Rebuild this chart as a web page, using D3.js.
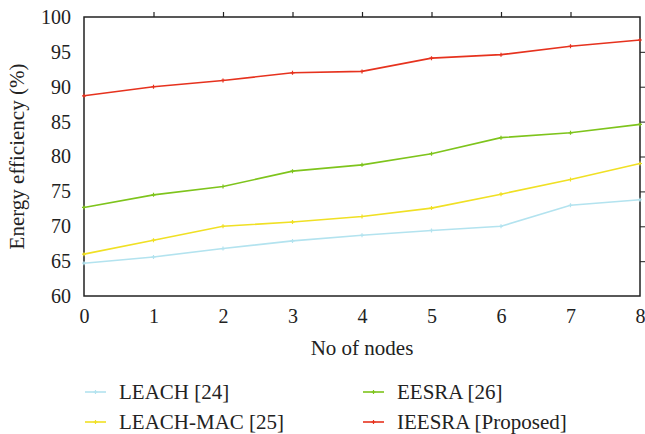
<!DOCTYPE html>
<html>
<head>
<meta charset="utf-8">
<script src="https://cdn.jsdelivr.net/npm/d3@7"></script>
<style>
  body { margin: 0; background: #fff; }
</style>
</head>
<body>
<script>
// data
var nodes = [0, 1, 2, 3, 4, 5, 6, 7, 8]
var leach = [64.7, 65.6, 66.8, 67.9, 68.7, 69.4, 70.0, 73.0, 73.8]
var leachMac = [66.0, 68.0, 70.0, 70.6, 71.4, 72.6, 74.6, 76.7, 79.0]
var eesra = [72.7, 74.5, 75.7, 77.9, 78.8, 80.4, 82.7, 83.4, 84.6]
var ieesra = [88.7, 90.0, 90.9, 92.0, 92.2, 94.1, 94.6, 95.8, 96.7]
var yTicks = [60, 65, 70, 75, 80, 85, 90, 95, 100]

var series = [
  {name: "LEACH [24]", values: leach, color: "#b3e3ef"},
  {name: "LEACH-MAC [25]", values: leachMac, color: "#f0e024"},
  {name: "EESRA [26]", values: eesra, color: "#7ec41c"},
  {name: "IEESRA [Proposed]", values: ieesra, color: "#e6321e"}
]

var FONT = "Liberation Serif"

var margin = {top: 17, right: 5, bottom: 138, left: 84},
    width = 645 - margin.left - margin.right,
    height = 434 - margin.top - margin.bottom

var svg = d3.select("body").append("svg")
    .attr("width", 645)
    .attr("height", 434)
    .attr("font-family", FONT)

var g = svg.append("g")
    .attr("transform", "translate(" + margin.left + "," + margin.top + ")")

var x = d3.scaleLinear().domain([0, 8]).range([0, width])
var y = d3.scaleLinear().domain([60, 100]).range([height, 0])

function styleText(sel, size) {
  sel.attr("font-family", FONT)
     .attr("font-size", size || 21)
     .attr("fill", "#222")
}

// bottom axis: labels only
var xAxis = g.append("g")
    .attr("transform", "translate(0," + height + ")")
    .call(d3.axisBottom(x).tickValues(nodes).tickSize(0).tickPadding(13).tickFormat(d3.format("d")))
    .attr("font-family", FONT)
xAxis.select(".domain").remove()
xAxis.selectAll("text").call(styleText, 20)

// left axis: labels only
var yAxis = g.append("g")
    .call(d3.axisLeft(y).tickValues(yTicks).tickSize(0).tickPadding(13))
    .attr("font-family", FONT)
yAxis.select(".domain").remove()
yAxis.selectAll("text").call(styleText, 20)

// top ticks pointing out
var topAxis = g.append("g")
    .call(d3.axisTop(x).tickValues(nodes.slice(1, 8)).tickSize(5).tickFormat(""))
topAxis.select(".domain").remove()
topAxis.selectAll("line").attr("stroke", "#222").attr("stroke-width", 1.2)

// right ticks pointing out
var rightAxis = g.append("g")
    .attr("transform", "translate(" + width + ",0)")
    .call(d3.axisRight(y).tickValues(yTicks.slice(1, 8)).tickSize(5).tickFormat(""))
rightAxis.select(".domain").remove()
rightAxis.selectAll("line").attr("stroke", "#444").attr("stroke-width", 1.2)

// frame
g.append("rect")
    .attr("width", width)
    .attr("height", height)
    .attr("fill", "none")
    .attr("stroke", "#222")
    .attr("stroke-width", 1.5)

var line = d3.line()
    .x((d, i) => x(nodes[i]))
    .y(d => y(d))

series.forEach(function(s) {
  g.append("path")
      .datum(s.values)
      .attr("fill", "none")
      .attr("stroke", s.color)
      .attr("stroke-width", 1.6)
      .attr("d", line)

  // small plus markers
  g.selectAll(null)
      .data(s.values)
      .enter().append("path")
      .attr("transform", (d, i) => "translate(" + x(nodes[i]) + "," + y(d) + ")")
      .attr("d", "M-2,0H2M0,-2V2")
      .attr("stroke", s.color)
      .attr("stroke-width", 1.2)
})

// axis titles
svg.append("text")
    .attr("x", margin.left + width / 2)
    .attr("y", 355)
    .attr("text-anchor", "middle")
    .call(styleText)
    .text("No of nodes")

svg.append("text")
    .attr("transform", "translate(24," + (margin.top + height / 2) + ") rotate(-90)")
    .attr("text-anchor", "middle")
    .call(styleText)
    .text("Energy efficiency (%)")

// legend, two columns
var legendPos = [[85, 392], [85, 422], [363, 392], [363, 422]]
series.forEach(function(s, i) {
  var lg = svg.append("g")
      .attr("transform", "translate(" + legendPos[i][0] + "," + legendPos[i][1] + ")")
  lg.append("line")
      .attr("x1", 0).attr("x2", 21)
      .attr("stroke", s.color)
      .attr("stroke-width", 1.6)
  lg.append("path")
      .attr("transform", "translate(10.5,0)")
      .attr("d", "M-2,0H2M0,-2V2")
      .attr("stroke", s.color)
      .attr("stroke-width", 1.2)
  lg.append("text")
      .attr("x", 34)
      .attr("dy", "0.35em")
      .call(styleText)
      .text(s.name)
})
</script>
</body>
</html>
